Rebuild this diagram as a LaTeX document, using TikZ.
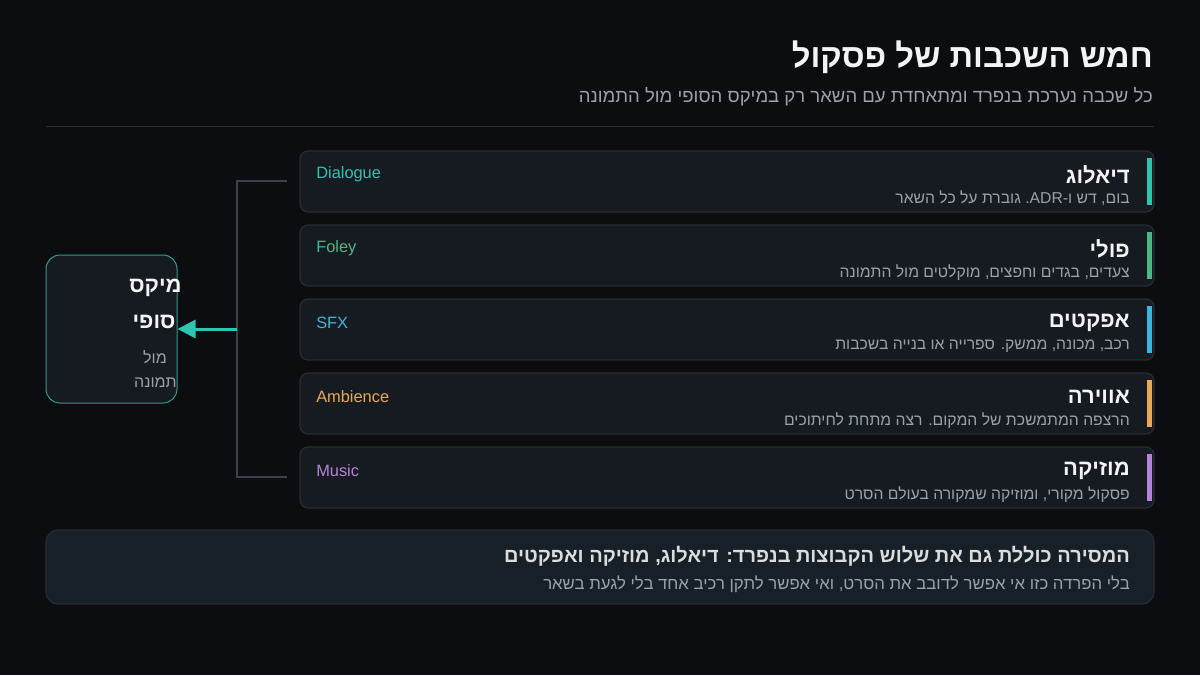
\documentclass[tikz,border=0pt]{standalone}
\usepackage{fontspec}
\usetikzlibrary{arrows.meta}
\setmainfont{Liberation Sans}
\newfontfamily\heb[Script=Hebrew]{Liberation Sans}
\TeXXeTstate=1
\definecolor{bg}{HTML}{0B0D10}
\definecolor{boxfill}{HTML}{161B21}
\definecolor{boxline}{HTML}{262C33}
\definecolor{bottomfill}{HTML}{172026}
\definecolor{rulec}{HTML}{2A3036}
\definecolor{brc}{HTML}{3A4148}
\definecolor{txtw}{HTML}{F2F4F6}
\definecolor{txtg}{HTML}{9AA1A8}
\definecolor{cdia}{HTML}{2EC4B0}
\definecolor{cfol}{HTML}{4DB883}
\definecolor{csfx}{HTML}{3DB4E0}
\definecolor{camb}{HTML}{E8AA5A}
\definecolor{cmus}{HTML}{B583DB}
\definecolor{mixline}{HTML}{2E9C8E}
\newcommand{\fs}[1]{\fontsize{#1}{#1}\selectfont}
\begin{document}
\begin{tikzpicture}[x=0.75pt,y=-0.75pt,
  layerbox/.style={draw=boxline, line width=0.9pt, fill=boxfill, rounded corners=6pt, minimum width=640.5pt, minimum height=45.75pt, inner sep=0pt},
  htitle/.style={anchor=east, inner sep=0pt, text=txtw, font=\heb\bfseries\fs{16.5pt}},
  hdesc/.style={anchor=east, inner sep=0pt, text=txtg, font=\heb\fs{11.8pt}},
  elabel/.style={anchor=west, inner sep=0pt, font=\fs{12.3pt}},
  accent/.style={inner sep=0pt, minimum width=3.75pt, minimum height=35.25pt},
  bracket/.style={draw=brc, line width=1.5pt},
  arr/.style={draw=cdia, line width=2.25pt, -{Triangle[length=13.5pt,width=13.5pt]}}
]
\fill[bg] (0,0) rectangle (1200,675);
\useasboundingbox (0,0) rectangle (1200,675);

% title
\node[anchor=east, inner sep=0pt, text=txtw, font=\heb\bfseries\fs{24.6pt}] (title) at (1153,57) {\beginR חמש השכבות של פסקול\endR};
\node[anchor=east, inner sep=0pt, text=txtg, font=\heb\fs{13.9pt}] (sub) at (1153,97) {\beginR כל שכבה נערכת בנפרד ומתאחדת עם השאר רק במיקס הסופי מול התמונה\endR};
\draw[rulec, line width=0.75pt] (46,126.5) -- (1154,126.5);

% layers
\foreach \i/\col/\en/\he/\de in {
  0/cdia/Dialogue/{\beginR דיאלוג\endR}/{\beginR בום, דש ו-\beginL ADR\endL. גוברת על כל השאר\endR},
  1/cfol/Foley/{\beginR פולי\endR}/{\beginR צעדים, בגדים וחפצים, מוקלטים מול התמונה\endR},
  2/csfx/SFX/{\beginR אפקטים\endR}/{\beginR רכב, מכונה, ממשק. ספרייה או בנייה בשכבות\endR},
  3/camb/Ambience/{\beginR אווירה\endR}/{\beginR הרצפה המתמשכת של המקום. רצה מתחת לחיתוכים\endR},
  4/cmus/Music/{\beginR מוזיקה\endR}/{\beginR פסקול מקורי, ומוזיקה שמקורה בעולם הסרט\endR}}
{
  \pgfmathsetmacro{\yc}{181.5+74*\i}
  \node[layerbox] (L\i) at (727,\yc) {};
  \node[accent, fill=\col] (A\i) at (1149.5,\yc) {};
  \node[htitle] (T\i) at (1130,\yc-7) {\he};
  \node[hdesc] (D\i) at (1130,\yc+17) {\de};
  \node[elabel, text=\col] (E\i) at (316,\yc-7) {\en};
}

% final mix box
\node[draw=mixline, line width=0.75pt, fill=boxfill, rounded corners=10.5pt, minimum width=98.25pt, minimum height=111pt, inner sep=0pt] (mix) at (111.5,329) {};
\node[inner sep=0pt, text=txtw, font=\heb\bfseries\fs{16.5pt}] (m1) at (155.5,288) {\beginR מיקס\endR};
\node[inner sep=0pt, text=txtw, font=\heb\bfseries\fs{16.5pt}] (m2) at (154,322) {\beginR סופי\endR};
\node[inner sep=0pt, text=txtg, font=\heb\fs{12pt}] (m3) at (155,357) {\beginR מול\endR};
\node[inner sep=0pt, text=txtg, font=\heb\fs{12pt}] (m4) at (155.5,383) {\beginR תמונה\endR};

% bracket
\coordinate (bt) at (287,181);
\coordinate (bb) at (287,477);
\coordinate (bc1) at (237,181);
\coordinate (bc2) at (237,477);
\coordinate (bm) at (237,329);
\draw[bracket] (bt) -- (bc1) -- (bc2) -- (bb);
\draw[arr] (bm) -- (mix.east);

% bottom box
\node[draw=boxline, line width=0.9pt, fill=bottomfill, rounded corners=9pt, minimum width=831pt, minimum height=55.5pt, inner sep=0pt] (note) at (600,567) {};
\node[anchor=east, inner sep=0pt, text=txtw!90!black, font=\heb\bfseries\fs{15pt}] (n1) at (1130,556) {\beginR המסירה כוללת גם את שלוש הקבוצות בנפרד: דיאלוג, מוזיקה ואפקטים\endR};
\node[anchor=east, inner sep=0pt, text=txtg, font=\heb\fs{12.57pt}] (n2) at (1130,584) {\beginR בלי הפרדה כזו אי אפשר לדובב את הסרט, ואי אפשר לתקן רכיב אחד בלי לגעת בשאר\endR};
\end{tikzpicture}
\end{document}
